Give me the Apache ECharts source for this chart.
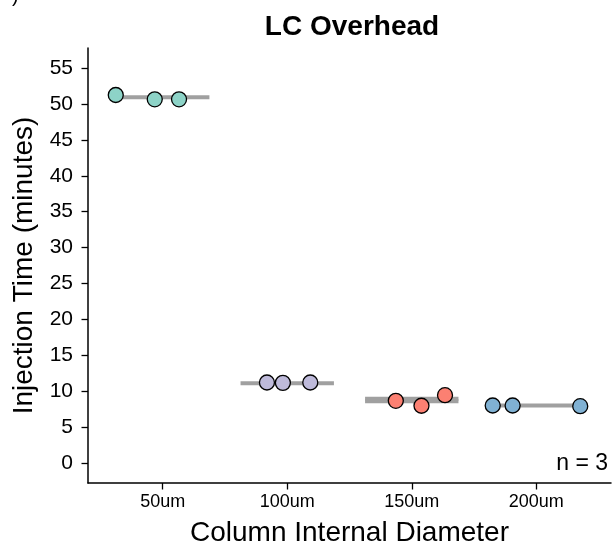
<!DOCTYPE html>
<html>
<head>
<meta charset="utf-8">
<script src="https://cdn.jsdelivr.net/npm/echarts@6/dist/echarts.min.js"></script>
<style>
  html, body { margin: 0; padding: 0; background: #fff; }
  #chart { width: 614px; height: 554px; }
</style>
</head>
<body>
<div id="chart"></div>
<script>
// Column diameters (one group each)
const categories = ['50um', '100um', '150um', '200um'];
const groupColors = ['#8DD3C7', '#BEBADA', '#FB8072', '#80B1D3'];

// Injection time of each replicate (minutes)
const values50 = [51.25, 50.65, 50.65];
const values100 = [11.2, 11.15, 11.2];
const values150 = [8.65, 7.96, 9.44];
const values200 = [8.0, 8.0, 7.9];

// Horizontal jitter of each replicate, in category units
const jitter50 = [-0.377, -0.064, 0.131];
const jitter100 = [-0.163, -0.035, 0.185];
const jitter150 = [-0.128, 0.078, 0.267];
const jitter200 = [-0.35, -0.19, 0.353];

// Summary line level(s) for each group
const summary50 = [50.95];
const summary100 = [11.1];
const summary150 = [8.95, 8.6];
const summary200 = [8.0];

// Y axis tick labels
const yTicks = [0, 5, 10, 15, 20, 25, 30, 35, 40, 45, 50, 55];

const groupValues = [values50, values100, values150, values200];
const groupJitter = [jitter50, jitter100, jitter150, jitter200];
const groupSummary = [summary50, summary100, summary150, summary200];
const catPositions = categories.map((c, i) => i + 1);

const FONT = '"Liberation Sans", Arial, Helvetica, sans-serif';
const LINE_HALF_WIDTH = 0.375;

const series = [];
groupSummary.forEach((levels, g) => {
  levels.forEach(level => {
    series.push({
      type: 'line',
      data: [[catPositions[g] - LINE_HALF_WIDTH, level], [catPositions[g] + LINE_HALF_WIDTH, level]],
      symbol: 'none',
      lineStyle: { color: '#a0a0a0', width: 4, cap: 'butt' },
      silent: true,
      z: 2
    });
  });
});
groupValues.forEach((vals, g) => {
  series.push({
    type: 'scatter',
    data: vals.map((v, k) => [catPositions[g] + groupJitter[g][k], v]),
    symbol: 'circle',
    symbolSize: 15,
    itemStyle: { color: groupColors[g], borderColor: '#000', borderWidth: 1.3, opacity: 1 },
    z: 3
  });
});

const chart = echarts.init(document.getElementById('chart'), null, { renderer: 'canvas' });
chart.setOption({
  animation: false,
  backgroundColor: '#fff',
  grid: { left: 88, right: 3, top: 48, bottom: 71, containLabel: false },
  xAxis: {
    type: 'value',
    min: 0.4,
    max: 4.6,
    name: 'Column Internal Diameter',
    nameLocation: 'middle',
    nameGap: 36,
    nameTextStyle: { fontFamily: FONT, fontSize: 28, color: '#000' },
    axisLine: { show: true, onZero: false, lineStyle: { color: '#000', width: 1.5 } },
    axisTick: { show: true, length: 6.5, customValues: catPositions, lineStyle: { color: '#000', width: 1.3 } },
    axisLabel: {
      customValues: catPositions,
      formatter: v => categories[Math.round(v) - 1] || '',
      fontFamily: FONT, fontSize: 18, color: '#000', margin: 10
    },
    splitLine: { show: false }
  },
  yAxis: {
    type: 'value',
    min: -2.8,
    max: 57.8,
    name: 'Injection Time (minutes)',
    nameLocation: 'middle',
    nameGap: 48,
    nameTextStyle: { fontFamily: FONT, fontSize: 28, color: '#000' },
    axisLine: { show: true, onZero: false, lineStyle: { color: '#000', width: 1.5 } },
    axisTick: { show: true, length: 6.5, customValues: yTicks, lineStyle: { color: '#000', width: 1.3 } },
    axisLabel: { customValues: yTicks, fontFamily: FONT, fontSize: 21, color: '#000', margin: 15 },
    splitLine: { show: false }
  },
  graphic: [
    {
      type: 'text', x: 352, y: 27,
      style: { text: 'LC Overhead', font: 'bold 28px ' + FONT, fill: '#000', textAlign: 'center', textVerticalAlign: 'middle' }
    },
    {
      type: 'text', x: 608, y: 464,
      style: { text: 'n = 3', font: '23px ' + FONT, fill: '#000', textAlign: 'right', textVerticalAlign: 'middle' }
    },
    {
      type: 'text', x: 12, y: -14,
      style: { text: ')', font: '20px ' + FONT, fill: '#000', textAlign: 'left', textVerticalAlign: 'top' }
    }
  ],
  series: series
});
</script>
</body>
</html>
